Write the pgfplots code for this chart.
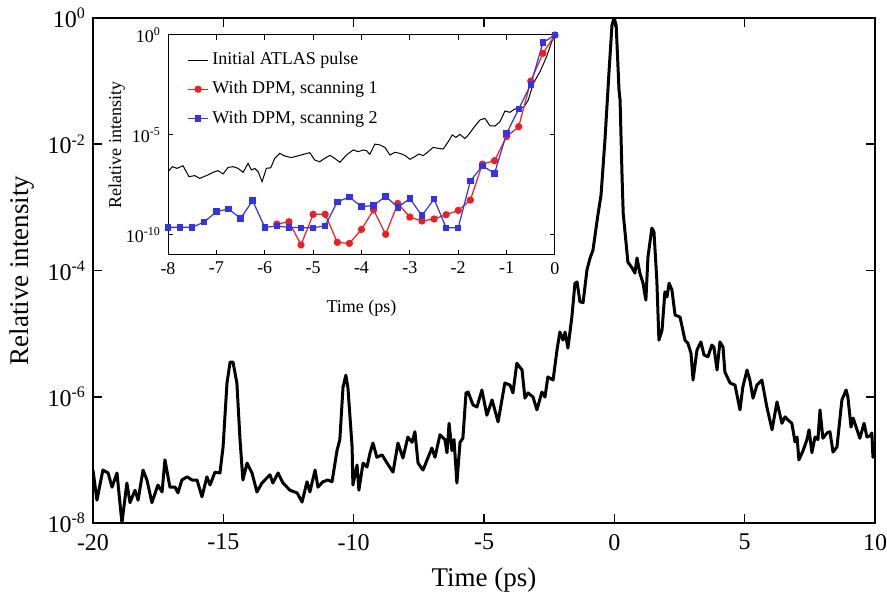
\documentclass[border=0pt]{standalone}
\usepackage{fontspec}
\setmainfont{Liberation Serif}
\usepackage{pgfplots}
\pgfplotsset{compat=1.18}
\definecolor{myred}{RGB}{240,30,30}
\definecolor{myblue}{RGB}{50,50,240}
\begin{document}
\begin{tikzpicture}
\begin{axis}[
  at={(0pt,0pt)}, anchor=south west,
  scale only axis, width=391pt, height=252.5pt,
  xmin=-20, xmax=10, ymin=1e-8, ymax=1, ymode=log,
  axis line style={line width=1pt},
  tick style={line width=0.8pt, black},
  major tick length=4.5pt,
  tick align=inside,
  xtick={-20,-15,-10,-5,0,5,10},
  xticklabels={-20,-15,-10,-5,0,5,10},
  ytick={1,1e-2,1e-4,1e-6,1e-8},
  yticklabels={10\textsuperscript{0},10\textsuperscript{-2},10\textsuperscript{-4},10\textsuperscript{-6},10\textsuperscript{-8}},
  minor tick num=0, yminorticks=false,
  ticklabel style={font=\fontsize{12}{14}\selectfont},
  xticklabel style={yshift=-2pt},
  xlabel={Time (ps)}, ylabel={Relative intensity},
  label style={font=\fontsize{13.5}{16}\selectfont},
  xlabel style={at={(axis description cs:0.5,-0.113)}, anchor=center},
  ylabel style={at={(axis description cs:-0.091,0.5)}, anchor=center},
]
\addplot[black, line width=1.5pt, line join=round] coordinates {
(-20.00,6.9e-8) (-19.85,2.3e-8) (-19.62,6.9e-8) (-19.42,6.2e-8) (-19.27,3.7e-8)
(-19.08,6.2e-8) (-18.89,1.0e-8) (-18.70,4.3e-8) (-18.58,2.1e-8) (-18.39,3.3e-8)
(-18.27,2.3e-8) (-18.08,6.9e-8) (-17.93,4.8e-8) (-17.74,2.1e-8) (-17.51,4.0e-8)
(-17.35,3.1e-8) (-17.24,1.0e-7) (-17.05,3.7e-8) (-16.85,3.7e-8) (-16.74,3.0e-8)
(-16.59,4.8e-8) (-16.39,5.4e-8) (-16.20,4.8e-8) (-16.01,4.8e-8) (-15.82,2.6e-8)
(-15.63,5.4e-8) (-15.51,4.0e-8) (-15.32,6.4e-8) (-15.13,6.2e-8) (-15.01,1.6e-7)
(-14.86,1.65e-6) (-14.74,3.55e-6) (-14.63,3.55e-6) (-14.48,1.65e-6) (-14.36,2.1e-7)
(-14.25,4.8e-8) (-14.09,8.9e-8) (-13.90,6.2e-8) (-13.71,3.1e-8) (-13.52,4.3e-8)
(-13.21,5.8e-8) (-13.10,4.3e-8) (-12.90,6.2e-8) (-12.71,4.3e-8) (-12.44,3.3e-8)
(-12.17,3.0e-8) (-11.98,2.15e-8) (-11.79,4.5e-8) (-11.68,3.1e-8) (-11.48,6.9e-8)
(-11.37,3.7e-8) (-11.18,4.5e-8) (-10.99,4.8e-8) (-10.83,4.5e-8) (-10.64,1.4e-7)
(-10.53,2.1e-7) (-10.41,1.4e-6) (-10.30,2.2e-6) (-10.22,1.4e-6) (-10.06,1.6e-7)
(-10.03,4.0e-8) (-9.87,8.3e-8) (-9.80,3.3e-8) (-9.64,8.9e-8) (-9.49,7.7e-8)
(-9.37,1.3e-7) (-9.26,1.85e-7) (-9.11,1.1e-7) (-8.91,1.2e-7) (-8.72,8.9e-8)
(-8.49,6.4e-8) (-8.30,1.85e-7) (-8.11,1.07e-7) (-7.92,2.3e-7) (-7.76,1.9e-7)
(-7.65,2.8e-7) (-7.53,8.9e-8) (-7.34,6.9e-8) (-7.00,1.54e-7) (-6.88,1.1e-7)
(-6.69,2.5e-7) (-6.50,2.1e-7) (-6.42,1.3e-7) (-6.34,3.8e-7) (-6.23,1.4e-7)
(-6.15,2.1e-7) (-6.04,4.3e-8) (-5.92,1.9e-7) (-5.81,2.2e-7) (-5.69,1.15e-6)
(-5.61,1.19e-6) (-5.42,7.4e-7) (-5.27,6.9e-7) (-5.08,1.28e-6) (-4.89,5.1e-7)
(-4.69,8.9e-7) (-4.46,4.0e-7) (-4.20,1.65e-6) (-4.00,1.53e-6) (-3.89,1.15e-6)
(-3.74,3.4e-6) (-3.54,2.65e-6) (-3.43,9.5e-7) (-3.31,1.15e-6) (-3.12,9.9e-7)
(-2.97,6.2e-7) (-2.78,1.19e-6) (-2.66,9.9e-7) (-2.55,2.06e-6) (-2.35,1.84e-6)
(-2.20,5.5e-6) (-2.09,1.06e-5) (-1.97,7.9e-6) (-1.89,1.06e-5) (-1.78,5.9e-6)
(-1.63,1.83e-5) (-1.51,6.3e-5) (-1.43,6.6e-5) (-1.32,3.2e-5) (-1.20,3.1e-5)
(-1.05,1.02e-4) (-0.93,1.58e-4) (-0.82,2.1e-4) (-0.63,7.6e-4) (-0.51,1.57e-3)
(-0.36,1.17e-2) (-0.20,0.15) (-0.09,0.77) (-0.01,1.0) (0.07,0.77)
(0.18,0.072) (0.22,0.050) (0.30,2.7e-3) (0.34,8.1e-4) (0.52,1.36e-4)
(0.68,1.1e-4) (0.79,9.1e-5) (0.87,1.58e-4) (0.98,9.1e-5) (1.10,6.3e-5)
(1.21,3.4e-5) (1.29,1.64e-4) (1.44,4.7e-4) (1.52,4.1e-4) (1.63,7.1e-5)
(1.71,7.9e-6) (1.83,1.14e-5) (1.94,4.6e-5) (2.02,3.8e-5) (2.10,6.3e-5)
(2.21,4.9e-5) (2.33,1.97e-5) (2.52,1.83e-5) (2.71,7.9e-6) (2.82,7.1e-6)
(2.94,4.9e-6) (3.02,1.84e-6) (3.17,5.5e-6) (3.32,7.4e-6) (3.44,4.6e-6)
(3.59,4.3e-6) (3.74,6.6e-6) (3.82,6.1e-6) (3.94,2.65e-6) (4.05,7.4e-6)
(4.17,6.1e-6) (4.24,2.47e-6) (4.44,1.65e-6) (4.63,1.53e-6) (4.82,6.2e-7)
(4.93,1.43e-6) (5.09,2.65e-6) (5.20,1.84e-6) (5.32,9.5e-7) (5.47,1.53e-6)
(5.66,1.84e-6) (5.85,6.9e-7) (6.05,3.0e-7) (6.24,8.3e-7) (6.43,3.8e-7)
(6.55,4.8e-7) (6.66,4.3e-7) (6.81,3.8e-7) (6.93,1.92e-7) (7.01,2.3e-7)
(7.08,1.0e-7) (7.24,1.4e-7) (7.39,2.1e-7) (7.47,3.0e-7) (7.58,1.3e-7)
(7.70,2.3e-7) (7.81,2.1e-7) (7.89,6.2e-7) (8.00,2.2e-7) (8.16,2.67e-7)
(8.27,2.8e-7) (8.39,1.33e-7) (8.54,1.6e-7) (8.73,8.9e-7) (8.89,1.28e-6)
(8.96,9.9e-7) (9.08,3.3e-7) (9.16,4.6e-7) (9.31,3.0e-7) (9.42,2.2e-7)
(9.58,3.8e-7) (9.69,2.3e-7) (9.81,2.4e-7) (9.88,2.67e-7) (9.92,1.1e-7)
(10.00,1.4e-7)
};
\end{axis}
\begin{axis}[
  at={(37.5pt,134pt)}, anchor=south west,
  scale only axis, width=193.5pt, height=110pt,
  xmin=-8, xmax=0, ymin=1e-11, ymax=1, ymode=log,
  axis background/.style={fill=white},
  axis line style={line width=0.5pt},
  tick style={line width=0.5pt, black},
  major tick length=2.5pt,
  tick align=inside,
  xtick={-8,-7,-6,-5,-4,-3,-2,-1,0},
  xticklabels={-8,-7,-6,-5,-4,-3,-2,-1,0},
  ytick={1,1e-5,1e-10},
  yticklabels={10\textsuperscript{0},10\textsuperscript{-5},10\textsuperscript{-10}},
  yminorticks=false,
  ticklabel style={font=\fontsize{9}{10}\selectfont},
  xlabel={Time (ps)}, ylabel={Relative intensity},
  label style={font=\fontsize{9}{10}\selectfont},
  xlabel style={at={(axis description cs:0.5,-0.241)}, anchor=center},
  ylabel style={at={(axis description cs:-0.132,0.5)}, anchor=center},
  legend style={draw=none, fill=none, font=\fontsize{9}{10}\selectfont,
    at={(axis description cs:0.045,0.95)}, anchor=north west,
    row sep=2.8pt, inner sep=1pt},
  legend cell align=left,
  legend image code/.code={\draw[mark repeat=2,mark phase=2,#1] plot coordinates {(0cm,0cm) (0.17cm,0cm) (0.34cm,0cm)};},
]
\addplot[black, line width=0.5pt] coordinates {
(-8.000,1.47e-7) (-7.910,2.6e-7) (-7.814,2.15e-7) (-7.690,2.9e-7) (-7.566,8.3e-8)
(-7.448,9.3e-8) (-7.345,6.8e-8) (-7.207,9.3e-8) (-7.069,1.36e-7) (-6.966,1.65e-7)
(-6.862,1.12e-7) (-6.759,2.4e-7) (-6.655,2.6e-7) (-6.552,2.15e-7) (-6.448,1.36e-7)
(-6.345,3.8e-7) (-6.276,1.78e-7) (-6.207,2.15e-7) (-6.138,1.47e-7) (-6.055,4.6e-8)
(-5.966,2.15e-7) (-5.876,2.3e-7) (-5.793,6.8e-7) (-5.690,1.21e-6) (-5.586,8.9e-7)
(-5.448,7.4e-7) (-5.276,9.6e-7) (-5.172,1.12e-6) (-5.069,1.31e-6) (-4.966,5.6e-7)
(-4.862,4.6e-7) (-4.759,6.8e-7) (-4.655,9.6e-7) (-4.552,6.8e-7) (-4.448,4.3e-7)
(-4.310,1.0e-6) (-4.172,1.78e-6) (-4.069,1.47e-6) (-3.966,1.78e-6) (-3.897,1.65e-6)
(-3.828,1.08e-6) (-3.724,3.5e-6) (-3.621,3.2e-6) (-3.517,2.4e-6) (-3.414,1.0e-6)
(-3.310,1.36e-6) (-3.207,1.21e-6) (-3.103,9.6e-7) (-3.000,6.1e-7) (-2.897,8.3e-7)
(-2.814,1.12e-6) (-2.724,9.3e-7) (-2.621,1.47e-6) (-2.517,2.4e-6) (-2.414,2.15e-6)
(-2.310,2.0e-6) (-2.207,4.6e-6) (-2.124,1.0e-5) (-2.048,7.6e-6) (-1.966,1.08e-5)
(-1.862,6.6e-6) (-1.793,1.0e-5) (-1.690,2.15e-5) (-1.552,5.6e-5) (-1.448,6.8e-5)
(-1.345,2.9e-5) (-1.241,2.8e-5) (-1.138,4.6e-5) (-1.034,1.58e-4) (-0.931,1.36e-4)
(-0.862,1.78e-4) (-0.759,2.4e-4) (-0.655,2.3e-4) (-0.552,5.6e-4) (-0.448,3.8e-3)
(-0.310,1.47e-2) (-0.172,8.3e-2) (-0.069,0.46) (0.000,1.0)
};
\addlegendentry{Initial ATLAS pulse}
\addplot[myred, line width=0.6pt, mark=*, mark size=1.5pt, mark options={solid, fill=myred, draw=myred}] coordinates {
(-5.75,3.5e-10) (-5.5,4.6e-10) (-5.25,3.2e-11) (-5.0,1.08e-9) (-4.75,1.08e-9)
(-4.5,4.3e-11) (-4.25,3.8e-11) (-4.0,1.9e-10) (-3.75,1.8e-9) (-3.5,1.08e-10)
(-3.25,3.8e-9) (-3.0,7.9e-10) (-2.75,5.0e-10) (-2.5,6.3e-10) (-2.25,1.04e-9)
(-2.0,1.7e-9) (-1.75,5.6e-9) (-1.5,3.5e-7) (-1.25,5.2e-7) (-1.0,8.3e-6)
(-0.75,2.6e-5) (-0.5,5.0e-3) (-0.25,0.121) (0.0,1.0)
};
\addlegendentry{With DPM, scanning 1}
\addplot[myblue, line width=0.6pt, mark=square*, mark size=1.3pt, mark options={solid, fill=myblue, draw=myblue}] coordinates {
(-8.0,2.42e-10) (-7.75,2.42e-10) (-7.5,2.42e-10) (-7.25,4.5e-10) (-7.0,1.47e-9)
(-6.75,2.0e-9) (-6.5,6.8e-10) (-6.25,5.2e-9) (-6.0,2.42e-10) (-5.75,2.8e-10)
(-5.5,2.42e-10) (-5.25,2.3e-10) (-5.0,2.3e-10) (-4.75,2.9e-10) (-4.5,4.6e-9)
(-4.25,7.9e-9) (-4.0,2.6e-9) (-3.75,3.0e-9) (-3.5,8.6e-9) (-3.25,2.4e-9)
(-3.0,6.6e-9) (-2.75,9.3e-10) (-2.5,6.3e-9) (-2.25,2.3e-10) (-2.0,2.3e-10)
(-1.75,5.0e-8) (-1.5,2.9e-7) (-1.25,1.2e-7) (-1.0,1.2e-5) (-0.75,2.0e-4)
(-0.5,3.4e-3) (-0.25,0.414) (0.0,1.0)
};
\addlegendentry{With DPM, scanning 2}
\end{axis}
\pgfresetboundingbox
\useasboundingbox (-46.5pt,-38pt) rectangle (397pt,261.5pt);
\end{tikzpicture}
\end{document}
